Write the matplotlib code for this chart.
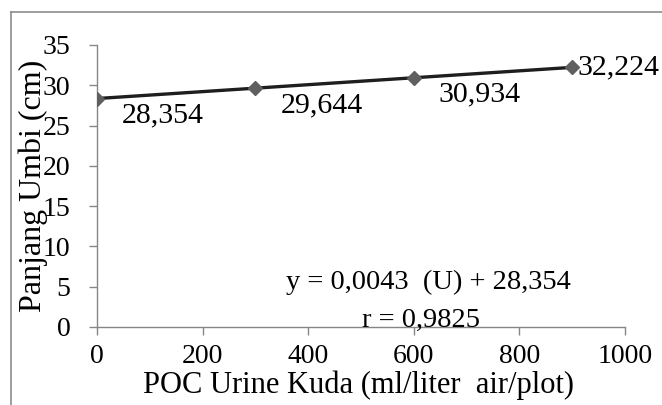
"""
Panjang umbi vs POC urine kuda
"""

import matplotlib
matplotlib.use("Agg")
import matplotlib.pyplot as plt
from matplotlib.lines import Line2D

# data
dosis = [0, 300, 600, 900]
panjang = [28.354, 29.644, 30.934, 32.224]
label_txt = ["28,354", "29,644", "30,934", "32,224"]
x_ticks = [0, 200, 400, 600, 800, 1000]
y_ticks = [0, 5, 10, 15, 20, 25, 30, 35]

plt.rcParams['font.family'] = ['Liberation Serif', 'DejaVu Serif']

fig = plt.figure(figsize=(6.62, 4.05), dpi=100)
ax = fig.add_axes([97 / 662, 1 - 327 / 405, 528 / 662, 282 / 405])

ax.plot(dosis, panjang, color='#1e1e1e', lw=2.4, zorder=2)
ax.plot(dosis, panjang, ls='none', marker='D', ms=7, color='#5f5f5f', zorder=3)

# data labels
for i, (x, y) in enumerate(zip(dosis, panjang)):
    if i == len(dosis) - 1:
        ax.annotate(label_txt[i], (x, y), xytext=(5, 0), textcoords='offset pixels',
                    ha='left', va='center', fontsize=21.5)
    else:
        ax.annotate(label_txt[i], (x, y), xytext=(25, -4), textcoords='offset pixels',
                    ha='left', va='top', fontsize=21.5)

ax.set_xlim(0, 1000)
ax.set_ylim(0, 35)
ax.set_xticks(x_ticks)
ax.set_yticks(y_ticks)
ax.tick_params(axis='both', labelsize=20, color='#868686', length=6, width=1)
ax.tick_params(axis='x', pad=6)
ax.tick_params(axis='y', pad=13)
for s in ['top', 'right']:
    ax.spines[s].set_visible(False)
for s in ['left', 'bottom']:
    ax.spines[s].set_color('#868686')
    ax.spines[s].set_linewidth(1)

ax.text(0.627, 0.159, "y = 0,0043  (U) + 28,354", transform=ax.transAxes,
        ha='center', va='center', fontsize=20.5)
ax.text(0.613, 0.025, "r = 0,9825", transform=ax.transAxes,
        ha='center', va='center', fontsize=20.5)

fig.text(358 / 662, 1 - 385 / 405, "POC Urine Kuda (ml/liter  air/plot)",
         ha='center', va='center', fontsize=22)
fig.text(33 / 662, 1 - 186 / 405, "Panjang Umbi (cm)", rotation=90,
         ha='center', va='center', fontsize=23)

# outer frame
fig.add_artist(Line2D([11 / 662, 1], [1 - 12 / 405] * 2, color='#8c8c8c', lw=1.2,
                      transform=fig.transFigure))
fig.add_artist(Line2D([11 / 662] * 2, [0, 1 - 12 / 405], color='#8c8c8c', lw=1.2,
                      transform=fig.transFigure))

fig.savefig("out.png", dpi=100)
